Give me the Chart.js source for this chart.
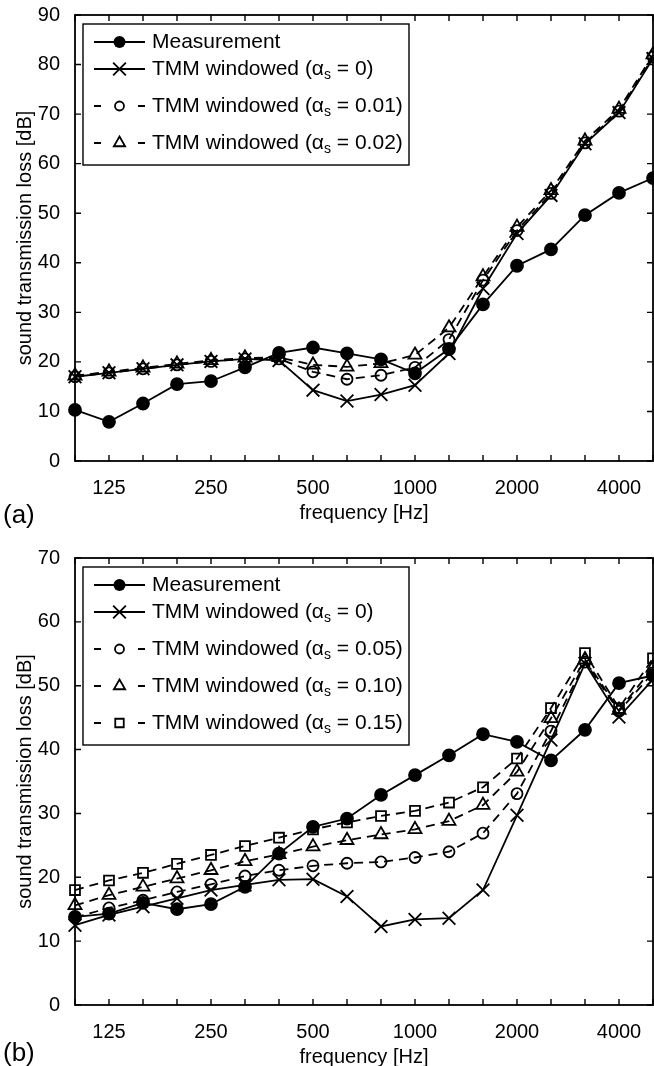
<!DOCTYPE html>
<html>
<head>
<meta charset="utf-8">
<script src="https://cdn.jsdelivr.net/npm/chart.js"></script>
<style>
  html, body { margin: 0; padding: 0; background: #fff; }
  body { width: 654px; height: 1066px; position: relative; overflow: hidden; font-family: "Liberation Sans", Arial, sans-serif; }
  .panel { position: absolute; left: 0; }
  .tag { position: absolute; left: 3px; font-size: 26px; color: #000; }
</style>
</head>
<body>
<canvas id="chartA" class="panel" width="654" height="530" style="top:0px"></canvas>
<canvas id="chartB" class="panel" width="654" height="544" style="top:530px"></canvas>
<div class="tag" style="top:499px">(a)</div>
<div class="tag" style="top:1037px">(b)</div>
<script>
// third-octave bands, only some of them get a label
const freqLabels = ['100','125','160','200','250','315','400','500','630','800','1000','1250','1600','2000','2500','3150','4000','5000'];
const labeledFreqs = ['125','250','500','1000','2000','4000'];

// panel (a)
const measA   = [10.3, 7.9, 11.6, 15.5, 16.1, 18.9, 21.8, 22.9, 21.7, 20.5, 17.7, 22.6, 31.6, 39.4, 42.7, 49.6, 54.1, 57.1];
const tmm0A   = [17.0, 17.8, 18.6, 19.4, 20.1, 20.6, 20.3, 14.3, 12.1, 13.4, 15.3, 21.7, 34.8, 45.9, 53.6, 64.0, 70.3, 81.2];
const tmm001A = [17.0, 17.8, 18.6, 19.4, 20.1, 20.6, 20.6, 18.0, 16.5, 17.3, 18.9, 24.5, 36.5, 46.5, 54.0, 64.2, 70.6, 81.5];
const tmm002A = [17.2, 18.0, 18.8, 19.6, 20.3, 20.8, 20.9, 19.4, 19.0, 19.7, 21.4, 26.9, 37.2, 47.2, 54.6, 64.6, 71.0, 82.0];
const alphaA  = ['0', '0.01', '0.02'];

// panel (b)
const measB   = [13.8, 14.3, 16.0, 15.0, 15.8, 18.5, 23.7, 27.9, 29.2, 32.9, 36.0, 39.1, 42.4, 41.2, 38.3, 43.1, 50.4, 51.6];
const tmm0B   = [12.5, 14.1, 15.4, 16.7, 18.0, 18.8, 19.6, 19.7, 17.0, 12.3, 13.4, 13.6, 18.0, 29.7, 41.5, 53.5, 45.1, 51.0];
const tmm005B = [13.7, 15.2, 16.4, 17.7, 18.9, 20.2, 21.1, 21.8, 22.2, 22.4, 23.1, 24.0, 26.9, 33.1, 42.9, 53.7, 46.0, 52.0];
const tmm010B = [15.6, 17.2, 18.5, 19.8, 21.1, 22.5, 23.6, 24.8, 25.8, 26.7, 27.5, 28.8, 31.3, 36.5, 44.9, 54.1, 46.2, 52.8];
const tmm015B = [18.0, 19.5, 20.7, 22.1, 23.5, 24.9, 26.2, 27.5, 28.6, 29.6, 30.4, 31.7, 34.1, 38.6, 46.5, 55.1, 46.5, 54.3];
const alphaB  = ['0', '0.05', '0.10', '0.15'];

const FONT = '"Liberation Sans", Arial, sans-serif';
const LW = 1.8;

function styleFor(k) {
  // k=0 measurement, 1 TMM alpha 0, then dashed ones with open markers
  var s = { borderColor: '#000', borderWidth: LW, pointBorderColor: '#000', pointBorderWidth: LW,
            pointBackgroundColor: 'rgba(0,0,0,0)', tension: 0 };
  if (k === 0) { s.pointStyle = 'circle'; s.pointRadius = 6; s.pointBackgroundColor = '#000'; }
  else if (k === 1) { s.pointStyle = 'crossRot'; s.pointRadius = 9; }
  else if (k === 2) { s.pointStyle = 'circle'; s.pointRadius = 5.5; s.borderDash = [9, 6]; }
  else if (k === 3) { s.pointStyle = 'triangle'; s.pointRadius = 7.5; s.borderDash = [9, 6]; }
  else { s.pointStyle = 'rect'; s.pointRadius = 7; s.borderDash = [9, 6]; }
  return s;
}

function drawMarker(ctx, style, r, x, y) {
  ctx.save();
  ctx.lineWidth = LW;
  ctx.strokeStyle = '#000';
  ctx.fillStyle = '#000';
  ctx.setLineDash([]);
  ctx.beginPath();
  if (style === 'filled') {
    ctx.arc(x, y, r, 0, Math.PI * 2); ctx.fill();
  } else if (style === 'circle') {
    ctx.arc(x, y, r, 0, Math.PI * 2); ctx.stroke();
  } else if (style === 'crossRot') {
    var d = r * Math.SQRT1_2;
    ctx.moveTo(x - d, y - d); ctx.lineTo(x + d, y + d);
    ctx.moveTo(x + d, y - d); ctx.lineTo(x - d, y + d); ctx.stroke();
  } else if (style === 'triangle') {
    var w = r * Math.sin(Math.PI * 2 / 3);
    ctx.moveTo(x, y - r); ctx.lineTo(x + w, y + r / 2); ctx.lineTo(x - w, y + r / 2); ctx.closePath(); ctx.stroke();
  } else {
    var h = r * Math.SQRT1_2;
    ctx.rect(x - h, y - h, 2 * h, 2 * h); ctx.stroke();
  }
  ctx.restore();
}

// in-plot legend, MATLAB style
const legendRows = [18, 45, 82, 119, 156];
function drawLegend(chart, alphas) {
  var ctx = chart.ctx, area = chart.chartArea;
  var n = alphas.length + 1;
  var bx = area.left + 8, by = area.top + 9, bw = 326, bh = legendRows[n - 1] + 22;
  ctx.save();
  ctx.fillStyle = '#fff';
  ctx.fillRect(bx, by, bw, bh);
  ctx.strokeStyle = '#000';
  ctx.lineWidth = 1.4;
  ctx.strokeRect(bx, by, bw, bh);
  for (var k = 0; k < n; k++) {
    var y = by + legendRows[k];
    var x0 = bx + 11, x1 = bx + 62, xm = (x0 + x1) / 2;
    ctx.strokeStyle = '#000';
    ctx.lineWidth = LW;
    ctx.beginPath();
    if (k < 2) {
      ctx.moveTo(x0, y); ctx.lineTo(x1, y);
    } else {
      ctx.moveTo(x0, y); ctx.lineTo(x0 + 7, y);
      ctx.moveTo(x1 - 7, y); ctx.lineTo(x1, y);
    }
    ctx.stroke();
    var st = styleFor(k);
    drawMarker(ctx, k === 0 ? 'filled' : st.pointStyle, k === 0 ? 6 : (k === 1 ? 9 : st.pointRadius - 1), xm, y);

    var tx = bx + 69;
    ctx.fillStyle = '#000';
    ctx.textBaseline = 'middle';
    ctx.font = '21px ' + FONT;
    if (k === 0) {
      ctx.fillText('Measurement', tx, y);
    } else {
      var a = 'TMM windowed (\u03b1';
      ctx.fillText(a, tx, y);
      tx += ctx.measureText(a).width;
      ctx.font = '14px ' + FONT;
      ctx.fillText('s', tx, y + 6);
      tx += ctx.measureText('s').width;
      ctx.font = '21px ' + FONT;
      ctx.fillText(' = ' + alphas[k - 1] + ')', tx, y);
    }
  }
  ctx.restore();
}

// box around the plot with inward ticks on all four sides
const framePlugin = {
  id: 'frame',
  afterDatasetsDraw: function(chart) {
    var ctx = chart.ctx, a = chart.chartArea;
    var xs = chart.scales.x, ys = chart.scales.y;
    ctx.save();
    ctx.strokeStyle = '#000';
    ctx.lineWidth = 1.8;
    ctx.strokeRect(a.left, a.top, a.right - a.left, a.bottom - a.top);
    ctx.lineWidth = 1.4;
    ctx.beginPath();
    xs.ticks.forEach(function(t, i) {
      var px = xs.getPixelForTick(i);
      ctx.moveTo(px, a.bottom); ctx.lineTo(px, a.bottom - 6);
      ctx.moveTo(px, a.top); ctx.lineTo(px, a.top + 6);
    });
    ys.ticks.forEach(function(t) {
      var py = ys.getPixelForValue(t.value);
      ctx.moveTo(a.left, py); ctx.lineTo(a.left + 6, py);
      ctx.moveTo(a.right, py); ctx.lineTo(a.right - 6, py);
    });
    ctx.stroke();
    ctx.restore();
    drawLegend(chart, chart.options.plugins.frame.alphas);
  }
};

function makeChart(id, series, alphas, yMax, topPad) {
  var datasets = series.map(function(values, k) {
    var ds = styleFor(k);
    ds.data = values;
    ds.label = k === 0 ? 'Measurement' : 'TMM windowed (\u03b1s = ' + alphas[k - 1] + ')';
    return ds;
  });
  datasets.reverse(); // measurement drawn last, on top

  return new Chart(document.getElementById(id).getContext('2d'), {
    type: 'line',
    data: { labels: freqLabels, datasets: datasets },
    plugins: [framePlugin],
    options: {
      responsive: false,
      animation: false,
      devicePixelRatio: 1,
      layout: { autoPadding: false, padding: { left: 0, right: 1, top: topPad, bottom: 0 } },
      plugins: {
        legend: { display: false },
        tooltip: { enabled: false },
        frame: { alphas: alphas }
      },
      scales: {
        x: {
          type: 'category',
          offset: false,
          grid: { display: false },
          border: { display: false },
          ticks: {
            autoSkip: false, maxRotation: 0, padding: 7, color: '#000',
            font: { family: FONT, size: 20 },
            callback: function(v, i) {
              var l = freqLabels[i];
              return labeledFreqs.indexOf(l) >= 0 ? l : '';
            }
          },
          title: { display: true, text: 'frequency [Hz]', color: '#000',
                   font: { family: FONT, size: 20 }, padding: { top: 0, bottom: 5 } },
          afterFit: function(s) { s.height = 69; s.paddingLeft = 0; s.paddingRight = 0; }
        },
        y: {
          min: 0, max: yMax,
          grid: { display: false },
          border: { display: false },
          ticks: { stepSize: 10, padding: 7, color: '#000', font: { family: FONT, size: 20 } },
          title: { display: true, text: 'sound transmission loss [dB]', color: '#000',
                   font: { family: FONT, size: 20 }, padding: { top: 13, bottom: 0 } },
          afterFit: function(s) { s.width = 75; s.paddingTop = 0; s.paddingBottom = 0; }
        }
      }
    }
  });
}

makeChart('chartA', [measA, tmm0A, tmm001A, tmm002A], alphaA, 90, 15);
makeChart('chartB', [measB, tmm0B, tmm005B, tmm010B, tmm015B], alphaB, 70, 28);
</script>
</body>
</html>
